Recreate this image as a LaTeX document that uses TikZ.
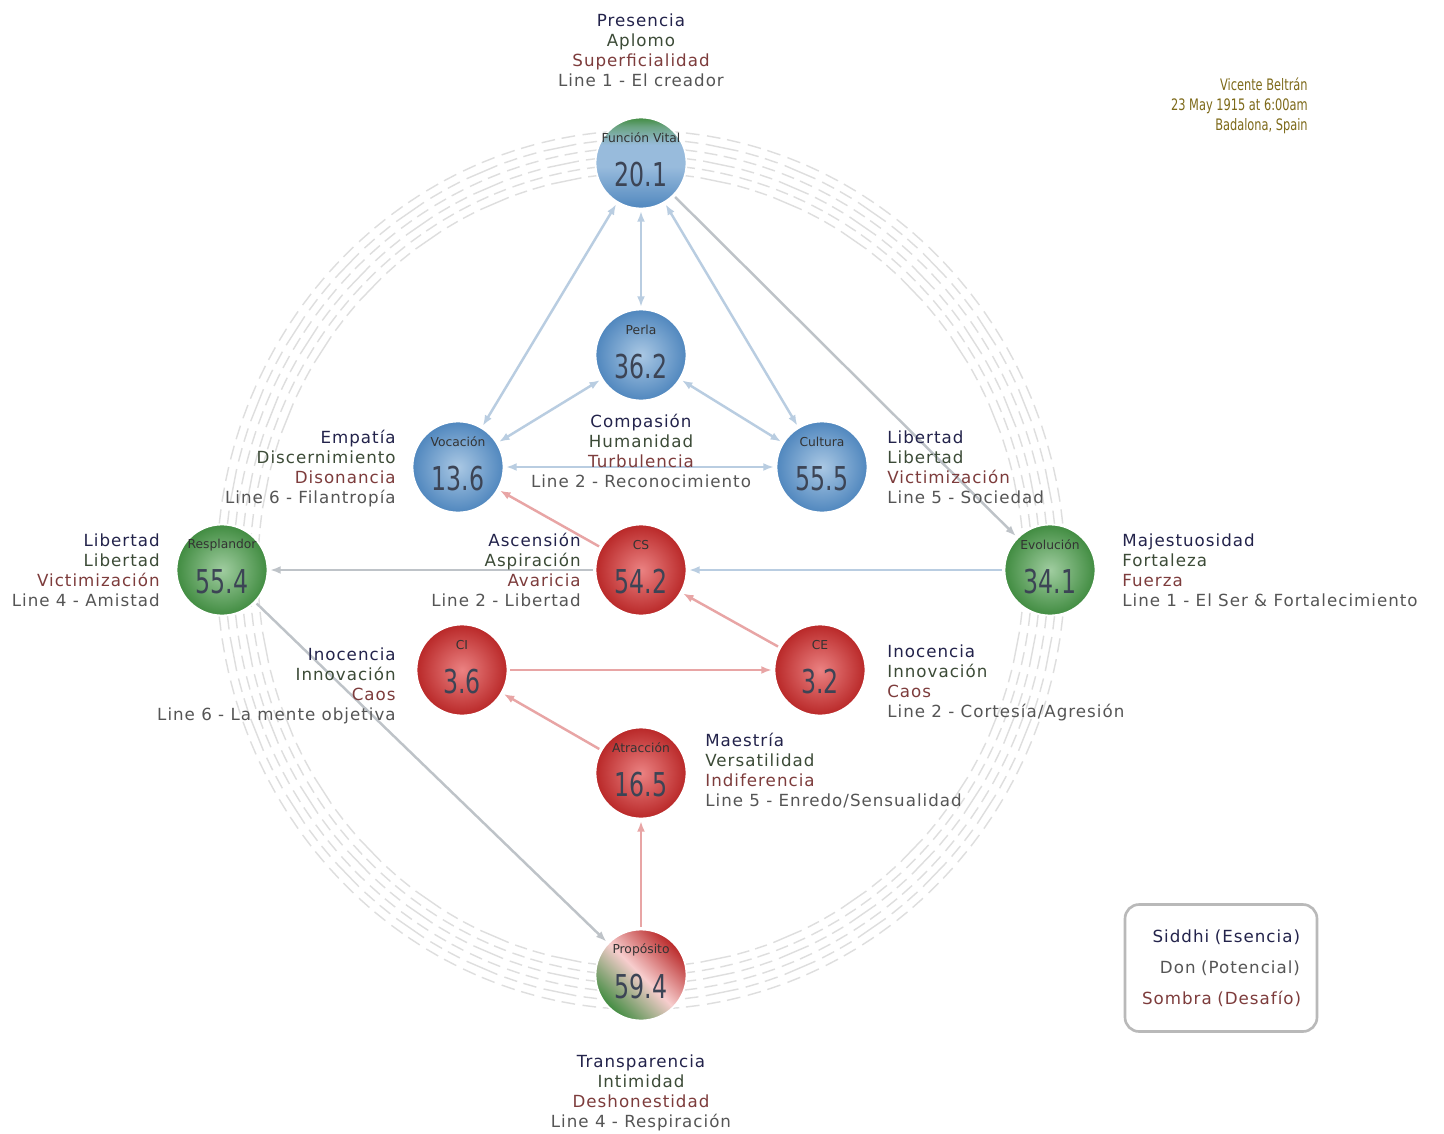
\documentclass[tikz,border=0pt]{standalone}
\usepackage{fontspec}
\setmainfont{DejaVu Sans}
\newfontfamily\lbfont[LetterSpace=6]{DejaVu Sans}
\newfontfamily\numfont[FakeStretch=0.72]{DejaVu Sans}
\newfontfamily\birthfont[FakeStretch=0.72]{DejaVu Sans}
\usetikzlibrary{arrows.meta,positioning,calc}

\definecolor{ctitle}{RGB}{35,35,75}
\definecolor{cgift}{RGB}{60,75,55}
\definecolor{cshadow}{RGB}{125,60,60}
\definecolor{cline}{RGB}{85,85,85}
\definecolor{cblue}{RGB}{185,205,225}
\definecolor{cred}{RGB}{232,165,165}
\definecolor{cgray}{RGB}{190,195,200}
\definecolor{cbirth}{RGB}{125,105,25}
\definecolor{cnum}{RGB}{60,68,85}
\definecolor{sblue}{RGB}{80,135,190}
\definecolor{sbluel}{RGB}{170,200,228}
\definecolor{sred}{RGB}{185,40,40}
\definecolor{sredl}{RGB}{235,130,130}
\definecolor{sgreen}{RGB}{65,140,65}
\definecolor{sgreenl}{RGB}{160,205,160}

\pgfdeclareverticalshading{fvshade}{100bp}{color(0bp)=(sblue); color(25bp)=(sblue); color(48bp)=(sbluel!80!sblue); color(60bp)=(sbluel!80!sblue); color(70bp)=(sgreen!60!sbluel); color(75bp)=(sgreen); color(100bp)=(sgreen)}

% siddhi / gift / shadow / line
\newcommand{\gk}[4]{\textcolor{ctitle}{#1}\\\textcolor{cgift}{#2}\\\textcolor{cshadow}{#3}\\\textcolor{cline}{#4}}

\begin{document}
\begin{tikzpicture}[x=0.02cm,y=-0.02cm,>={Latex[length=6pt,width=4.5pt]},
    sphere/.style={circle,minimum size=1.82cm,inner sep=0pt,draw=white,line width=1pt},
    bsph/.style={sphere,inner color=sbluel,outer color=sblue},
    rsph/.style={sphere,inner color=sredl,outer color=sred},
    gsph/.style={sphere,inner color=sgreenl,outer color=sgreen},
    fvsph/.style={sphere,shading=fvshade},
    prsph/.style={sphere,left color=sgreen,right color=sred,middle color=sredl!40!white,shading angle=135},
    sph/.style 2 args={label={[sname]center:#1},label={[snum]center:#2}},
    sname/.style={font=\fontsize{7}{8}\selectfont,text=black!80,yshift=0.5cm,inner sep=0pt},
    snum/.style={font=\numfont\fontsize{18.7}{20}\selectfont,text=cnum,yshift=-0.24cm,inner sep=0pt},
    gtxt/.style={font=\lbfont\fontsize{9.5}{11.4}\selectfont,inner sep=0pt},
    bl/.style={cblue,line width=1.4pt,shorten <=1pt,shorten >=1pt},
    rl/.style={cred,line width=1.4pt,shorten <=1pt,shorten >=1pt},
    gl/.style={cgray,line width=1.4pt,shorten <=1pt,shorten >=1pt},
    legbox/.style={draw=gray!55,line width=1.5pt,rounded corners=8pt,minimum width=3.84cm,minimum height=2.54cm,inner sep=0.34cm,text width=3.16cm,align=right,font=\lbfont\fontsize{9.5}{17.6}\selectfont}]

  \fill[white] (0,0) rectangle (1444,1133);
  \useasboundingbox (0,0) rectangle (1444,1133);

  % hexagram wheel
  \begin{scope}[shift={(641,570)},draw=gray!26,line width=0.8pt]
    \foreach \k in {0,...,63}{
      \foreach \j in {0,...,5}{
        \pgfmathsetmacro{\r}{397+\j*8.5}
        \pgfmathsetmacro{\rx}{0.965*\r}
        \pgfmathsetmacro{\aa}{\k*5.625-2.3}
        \pgfmathsetmacro{\ab}{\k*5.625-0.45}
        \pgfmathsetmacro{\ac}{\k*5.625+0.45}
        \pgfmathsetmacro{\ad}{\k*5.625+2.3}
        \pgfmathtruncatemacro{\brk}{mod(\k*37+\j*11+\k*\j*5,2)}
        \ifnum\brk=1
          \draw ({\rx*cos(\aa)},{\r*sin(\aa)}) -- ({\rx*cos(\ab)},{\r*sin(\ab)})
                ({\rx*cos(\ac)},{\r*sin(\ac)}) -- ({\rx*cos(\ad)},{\r*sin(\ad)});
        \else
          \draw ({\rx*cos(\aa)},{\r*sin(\aa)}) -- ({\rx*cos(\ad)},{\r*sin(\ad)});
        \fi
      }
    }
  \end{scope}

  % spheres
  \node[fvsph,sph={Función Vital}{20.1}] (fv) at (641,163) {};
  \node[bsph,sph={Perla}{36.2}] (perla) at (641,355) {};
  \node[bsph,sph={Vocación}{13.6}] (voc) at (458,467) {};
  \node[bsph,sph={Cultura}{55.5}] (cult) at (822,467) {};
  \node[gsph,sph={Resplandor}{55.4}] (resp) at (222,570) {};
  \node[rsph,sph={CS}{54.2}] (cs) at (641,570) {};
  \node[gsph,sph={Evolución}{34.1}] (evol) at (1050,570) {};
  \node[rsph,sph={CI}{3.6}] (ci) at (462,670) {};
  \node[rsph,sph={CE}{3.2}] (ce) at (820,670) {};
  \node[rsph,sph={Atracción}{16.5}] (atr) at (641,773) {};
  \node[prsph,sph={Propósito}{59.4}] (prop) at (641,975) {};

  % connectors
  \draw[bl,<->] (fv) -- (voc);
  \draw[bl,<->] (fv) -- (perla);
  \draw[bl,<->] (fv) -- (cult);
  \draw[bl,<->] (perla) -- (voc);
  \draw[bl,<->] (perla) -- (cult);
  \draw[bl,<->] (voc) -- (cult);
  \draw[gl,->] (fv) -- (evol);
  \draw[bl,->] (evol) -- (cs);
  \draw[gl,->] (cs) -- (resp);
  \draw[rl,->] (cs) -- (voc);
  \draw[rl,->] (ce) -- (cs);
  \draw[rl,->] (ci) -- (ce);
  \draw[rl,->] (atr) -- (ci);
  \draw[rl,->] (prop) -- (atr);
  \draw[gl,->] (resp) -- (prop);

  % key texts
  \node[gtxt,align=center,anchor=north] (tfv) at (641,13) {\gk{Presencia}{Aplomo}{Superficialidad}{Line 1 - El creador}};
  \node[gtxt,align=right,anchor=north east] (tvoc) at (396,430) {\gk{Empatía}{Discernimiento}{Disonancia}{Line 6 - Filantropía}};
  \node[gtxt,align=center,anchor=north] (tperla) at (641,414) {\gk{Compasión}{Humanidad}{Turbulencia}{Line 2 - Reconocimiento}};
  \node[gtxt,align=left,anchor=north west] (tcult) at (887,430) {\gk{Libertad}{Libertad}{Victimización}{Line 5 - Sociedad}};
  \node[gtxt,align=right,anchor=north east] (tresp) at (160,533) {\gk{Libertad}{Libertad}{Victimización}{Line 4 - Amistad}};
  \node[gtxt,align=right,anchor=north east] (tcs) at (581,533) {\gk{Ascensión}{Aspiración}{Avaricia}{Line 2 - Libertad}};
  \node[gtxt,align=left,anchor=north west] (tevol) at (1122,533) {\gk{Majestuosidad}{Fortaleza}{Fuerza}{Line 1 - El Ser \& Fortalecimiento}};
  \node[gtxt,align=right,anchor=north east] (tci) at (396,647) {\gk{Inocencia}{Innovación}{Caos}{Line 6 - La mente objetiva}};
  \node[gtxt,align=left,anchor=north west] (tce) at (887,644) {\gk{Inocencia}{Innovación}{Caos}{Line 2 - Cortesía/Agresión}};
  \node[gtxt,align=left,anchor=north west] (tatr) at (705,733) {\gk{Maestría}{Versatilidad}{Indiferencia}{Line 5 - Enredo/Sensualidad}};
  \node[gtxt,align=center,anchor=north] (tprop) at (641,1054) {\gk{Transparencia}{Intimidad}{Deshonestidad}{Line 4 - Respiración}};

  % birth data
  \node[font=\birthfont\fontsize{9}{11.4}\selectfont,text=cbirth,align=right,inner sep=0pt,anchor=north east] (who) at (1308,77) {Vicente Beltrán\\23 May 1915 at 6:00am\\Badalona, Spain};

  % legend
  \node[legbox] (leg) at (1221,968) {\textcolor{ctitle}{Siddhi (Esencia)}\\\textcolor{cline}{Don (Potencial)}\\\textcolor{cshadow}{Sombra (Desafío)}};
\end{tikzpicture}
\end{document}
